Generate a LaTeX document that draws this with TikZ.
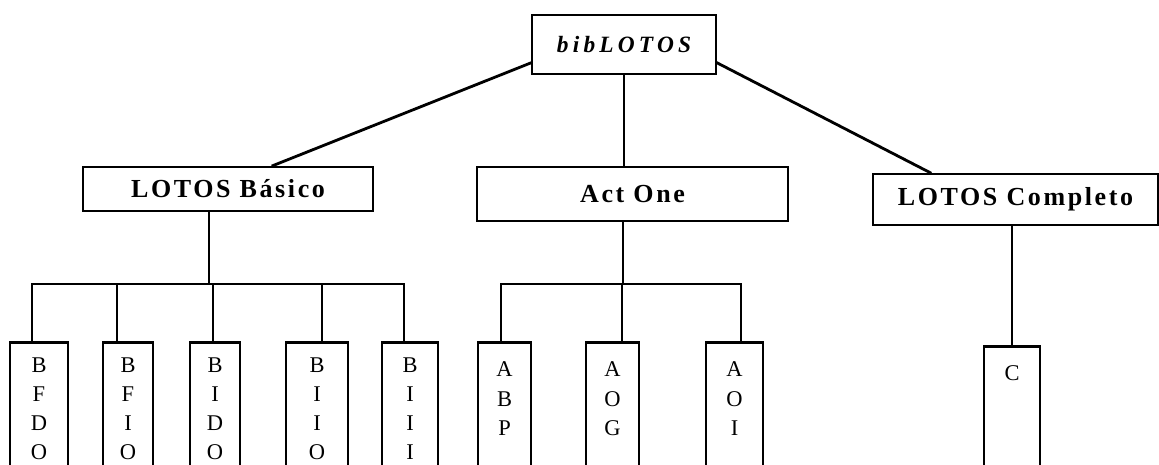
\documentclass[tikz,border=0pt]{standalone}
\usepackage{fontspec}
\setmainfont{Liberation Serif}
\newfontfamily\headfont[LetterSpace=10]{Liberation Serif}
\newfontfamily\rootfont[LetterSpace=18]{Liberation Serif}

\tikzset{
  box/.style={draw, line width=1.6pt, inner sep=0pt},
  head/.style={box, font=\headfont\bfseries\fontsize{14.8}{17}\selectfont},
  leaf/.style={draw, line width=1.6pt, anchor=north, inner xsep=0pt, inner ysep=0.31cm,
    font=\fontsize{12.8}{16.4}\selectfont},
  link/.style={line width=1.6pt, line cap=rect}
}
% letters stacked one per line, pinned to the top of the box
\newcommand{\letters}[1]{\parbox[t][3cm][t]{0.6cm}{\centering #1}}

\begin{document}
\begin{tikzpicture}[x=0.02cm, y=-0.02cm]
\useasboundingbox (0,0) rectangle (1159,465);
\clip (0,0) rectangle (1159,465);

% root and the three sub-libraries
\node[box, minimum width=3.68cm, minimum height=1.18cm,
  font=\rootfont\bfseries\itshape\fontsize{13.3}{16}\selectfont] (biblotos) at (624,44.5) {bibLOTOS};
\node[head, minimum width=5.8cm, minimum height=0.88cm] (basico) at (228,189) {LOTOS Básico};
\node[head, minimum width=6.22cm, minimum height=1.08cm] (actone) at (632.5,194) {Act One};
\node[head, minimum width=5.7cm, minimum height=1.02cm] (completo) at (1015.5,199.5) {LOTOS Completo};

\draw[link] ([yshift=-0.37cm]biblotos.west) -- ([xshift=0.9cm]basico.north);
\draw[link] ([yshift=-0.37cm]biblotos.east) -- ([xshift=-1.71cm]completo.north);
\draw[link] (biblotos.south) -- (biblotos.south |- actone.north);

% basic LOTOS modules
\node[leaf, minimum width=1.16cm] (bfdo) at (39,341) {\letters{B\\F\\D\\O}};
\node[leaf, minimum width=1.0cm] (bfio) at (128,341) {\letters{B\\F\\I\\O}};
\node[leaf, minimum width=1.0cm] (bido) at (215,341) {\letters{B\\I\\D\\O}};
\node[leaf, minimum width=1.24cm] (biio) at (317,341) {\letters{B\\I\\I\\O}};
\node[leaf, minimum width=1.12cm] (biii) at (410,341) {\letters{B\\I\\I\\I}};

\coordinate (bj) at (209,284);
\draw[link] (bj |- basico.south) -- (bj);
\draw[link] (32,284) -- (404,284);
\foreach \leaf/\x in {bfdo/32, bfio/117, bido/213, biio/322, biii/404}
  \draw[link] (\x,284) -- (\x,284 |- \leaf.north);

% Act One modules
\tikzset{leaf/.append style={inner ysep=0.39cm, font=\fontsize{12.8}{16.7}\selectfont}}
\node[leaf, minimum width=1.06cm] (abp) at (504.5,341) {\letters{A\\B\\P}};
\node[leaf, minimum width=1.06cm] (aog) at (612.5,341) {\letters{A\\O\\G}};
\node[leaf, minimum width=1.14cm] (aoi) at (734.5,341) {\letters{A\\O\\I}};

\coordinate (aj) at (623,284);
\draw[link] (aj |- actone.south) -- (aj);
\draw[link] (501,284) -- (741,284);
\foreach \leaf/\x in {abp/501, aog/622, aoi/741}
  \draw[link] (\x,284) -- (\x,284 |- \leaf.north);

% full LOTOS
\node[leaf, minimum width=1.12cm] (c) at (1012,345) {\letters{C}};
\draw[link] (completo.south -| c.north) -- (c.north);
\end{tikzpicture}
\end{document}
